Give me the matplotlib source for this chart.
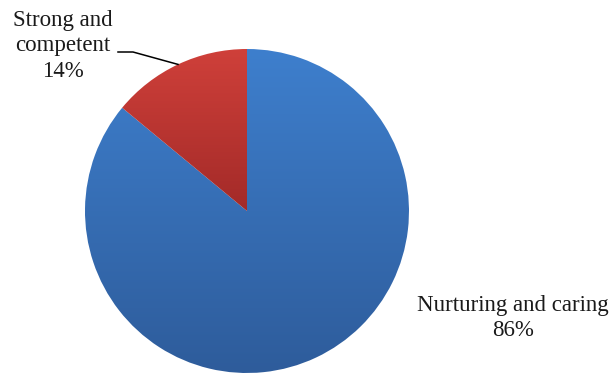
import numpy as np
import matplotlib
matplotlib.use("Agg")
import matplotlib.pyplot as plt
from matplotlib.colors import LinearSegmentedColormap

categories = ["Nurturing and caring", "Strong and competent"]
values = [86, 14]
top_colors = ["#3E7FCD", "#CF403A"]
bottom_colors = ["#2E5C9B", "#A32A28"]

W, H = 611, 375
fig = plt.figure(figsize=(W / 100, H / 100), dpi=100)
cx, cy, r = 247, 211, 162
ax = fig.add_axes([(cx - r) / W, (H - cy - r) / H, 2 * r / W, 2 * r / H])

wedges, _ = ax.pie(values, startangle=90, counterclock=False, radius=1,
                   colors=top_colors, wedgeprops=dict(linewidth=0))
ax.set_xlim(-1, 1)
ax.set_ylim(-1, 1)
ax.set_aspect("equal")
ax.axis("off")

for w, ct, cb in zip(wedges, top_colors, bottom_colors):
    ext = w.get_path().get_extents()
    cmap = LinearSegmentedColormap.from_list("g", [cb, ct])
    grad = np.linspace(0, 1, 256).reshape(-1, 1)
    im = ax.imshow(grad, cmap=cmap, origin="lower", aspect="auto",
                   extent=[ext.x0, ext.x1, ext.y0, ext.y1], zorder=w.get_zorder() + 0.1)
    im.set_clip_path(w)
    w.set_facecolor("none")
ax.set_xlim(-1, 1)
ax.set_ylim(-1, 1)

font = dict(family="Liberation Serif", fontsize=16.5, color="#1a1a1a")

fig.text(513 / W, 1 - 318 / H, f"{categories[0]}\n{values[0]}%", ha="center", va="center",
         linespacing=1.3, **font)

fig.text(63 / W, 1 - 46 / H, "Strong and\ncompetent\n" + f"{values[1]}%", ha="center", va="center",
         linespacing=1.3, **font)

w = wedges[1]
mid = np.deg2rad((w.theta1 + w.theta2) / 2)
ex, ey = np.cos(mid), np.sin(mid)
inv = ax.transData.inverted()
p0 = inv.transform(fig.transFigure.transform((118 / W, 1 - 52 / H)))
p1 = inv.transform(fig.transFigure.transform((133 / W, 1 - 52 / H)))
ax.plot([p0[0], p1[0], ex], [p0[1], p1[1], ey], color="black", lw=1.1, clip_on=False)

fig.savefig("out.png", dpi=100, facecolor="white")
